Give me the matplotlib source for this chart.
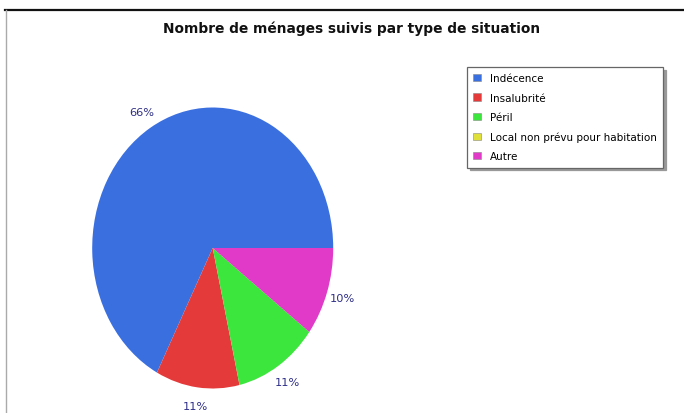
import matplotlib
matplotlib.use("Agg")
import matplotlib.pyplot as plt
from matplotlib.lines import Line2D

title = "Nombre de ménages suivis par type de situation"
categories = ["Indécence", "Insalubrité", "Péril", "Local non prévu pour habitation", "Autre"]
values = [66, 11, 11, 0, 10]
colors = ["#3a6fe0", "#e43a3a", "#3ce63c", "#e0e03a", "#e23ac8"]

W, H = 684, 414
fig = plt.figure(figsize=(W / 100, H / 100), dpi=100)
fig.patch.set_facecolor("white")

# pie axes (elliptical pie)
cx, cy, rx, ry = 212.7, 249.0, 120.5, 140.5
lim = 1.25
ax = fig.add_axes([(cx - lim * rx) / W, (H - cy - lim * ry) / H,
                   2 * lim * rx / W, 2 * lim * ry / H])
labels = [f"{v}%" if v > 0 else "" for v in values]
wedges, texts = ax.pie(values, colors=colors, labels=labels, startangle=0,
                       counterclock=True, labeldistance=1.135,
                       wedgeprops=dict(linewidth=0),
                       textprops=dict(color="#2e2e88", fontsize=8.2))
for t in texts:
    t.set_ha("center")
    t.set_va("center")
ax.set_aspect("auto")
ax.set_xlim(-lim, lim)
ax.set_ylim(-lim, lim)
ax.axis("off")

fig.text(0.5 * (162 + 541) / W, 1 - 29 / H, title, ha="center", va="center",
         fontsize=9.9, fontweight="bold", color="#111111")

leg = fig.legend(wedges, categories, loc="upper left",
                 bbox_to_anchor=(467 / W, 1 - 68 / H), borderaxespad=0,
                 fontsize=7.5, frameon=True, fancybox=False,
                 handlelength=0.7, handleheight=0.7, handletextpad=0.9,
                 labelspacing=0.9, borderpad=0.6,
                 shadow={"color": "#999999", "alpha": 1})
leg.get_frame().set_edgecolor("#666666")
leg.get_frame().set_linewidth(0.9)
for h in leg.legend_handles:
    h.set_edgecolor("#888888")
    h.set_linewidth(0.4)

# screenshot frame lines
fig.add_artist(Line2D([5 / W, 1], [1 - 10.5 / H, 1 - 10.5 / H], color="#111111", lw=1.6))
fig.add_artist(Line2D([5.5 / W, 5.5 / W], [0, 1 - 10.5 / H], color="#aaaaaa", lw=1.0))

fig.savefig("out.png", dpi=100)
